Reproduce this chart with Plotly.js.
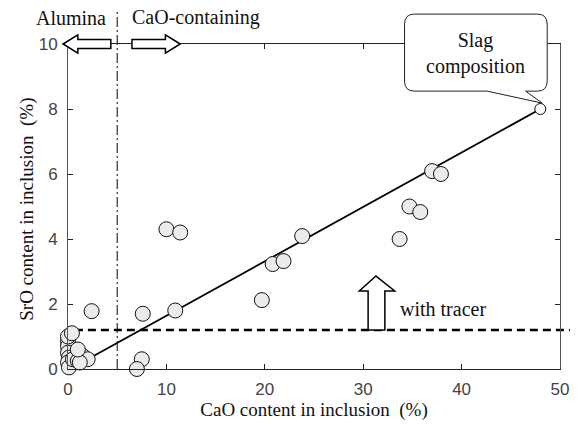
<!DOCTYPE html>
<html>
<head>
<meta charset="utf-8">
<script src="https://cdn.plot.ly/plotly-3.0.1.min.js"></script>
<style>html,body{margin:0;padding:0;background:#fff}#chart{width:583px;height:425px}</style>
</head>
<body>
<div id="chart"></div>
<script>
// ---- data ----
const caoInclusion = [37.0, 37.9, 34.7, 35.8, 33.7, 23.8, 20.8, 21.9, 19.7, 10.0, 11.4, 10.9, 7.6, 2.4, 7.5, 7.0,
  0.0, 0.0, 0.0, 0.1, 0.0, 0.1, 0.0, 0.5, 1.5, 2.0, 1.0, 1.2, 1.0, 0.4];
const sroInclusion = [6.09, 6.0, 5.0, 4.83, 4.0, 4.09, 3.23, 3.32, 2.12, 4.3, 4.2, 1.8, 1.7, 1.78, 0.3, 0.0,
  0.85, 0.7, 0.5, 0.35, 0.2, 0.05, 1.0, 0.3, 0.4, 0.3, 0.25, 0.2, 0.6, 1.1];
const slagCaO = [48];
const slagSrO = [8];
const fitCaO = [2, 48];
const fitSrO = [0.3, 8];
const tracerLevel = 1.2;
const boundaryCaO = 5;
const xTicks = [0, 10, 20, 30, 40, 50];
const yTicks = [0, 2, 4, 6, 8, 10];
const xRange = [0, 50];
const yRange = [0, 10];

const fx = v => (v - xRange[0]) / (xRange[1] - xRange[0]);
const fy = v => (v - yRange[0]) / (yRange[1] - yRange[0]);
const P = (x, y) => fx(x) + ',' + fy(y);

const serif = 'Liberation Serif, Times New Roman, serif';

// callout path
const cx0 = 34.2, cx1 = 48.7, cy0 = 8.55, cy1 = 10.92, rx = 1.0, ry = 0.31;
const calloutPath = 'M' + P(cx0 + rx, cy1) + ' L' + P(cx1 - rx, cy1) + ' Q' + P(cx1, cy1) + ' ' + P(cx1, cy1 - ry) +
  ' L' + P(cx1, cy0 + ry) + ' Q' + P(cx1, cy0) + ' ' + P(cx1 - rx, cy0) +
  ' L' + P(46.5, cy0) + ' L' + P(48.2, 8.18) + ' L' + P(42.6, cy0) +
  ' L' + P(cx0 + rx, cy0) + ' Q' + P(cx0, cy0) + ' ' + P(cx0, cy0 + ry) +
  ' L' + P(cx0, cy1 - ry) + ' Q' + P(cx0, cy1) + ' ' + P(cx0 + rx, cy1) + ' Z';

// block arrows
const hh = 0.28, bh = 0.14;
const leftArrow = 'M' + P(-0.5, 10) + ' L' + P(1.0, 10 + hh) + ' L' + P(1.0, 10 + bh) + ' L' + P(4.35, 10 + bh) +
  ' L' + P(4.35, 10 - bh) + ' L' + P(1.0, 10 - bh) + ' L' + P(1.0, 10 - hh) + ' Z';
const rightArrow = 'M' + P(11.4, 10) + ' L' + P(9.9, 10 + hh) + ' L' + P(9.9, 10 + bh) + ' L' + P(6.5, 10 + bh) +
  ' L' + P(6.5, 10 - bh) + ' L' + P(9.9, 10 - bh) + ' L' + P(9.9, 10 - hh) + ' Z';
const upArrow = 'M' + P(31.3, 2.86) + ' L' + P(33.2, 2.4) + ' L' + P(32.2, 2.4) + ' L' + P(32.2, tracerLevel) +
  ' L' + P(30.5, tracerLevel) + ' L' + P(30.5, 2.4) + ' L' + P(29.6, 2.4) + ' Z';

const traces = [
  {x: fitCaO, y: fitSrO, mode: 'lines', line: {color: '#000', width: 1.8}, hoverinfo: 'skip'},
  {x: caoInclusion, y: sroInclusion, mode: 'markers',
   marker: {size: 15, color: '#ebebeb', line: {color: '#111', width: 1}}, cliponaxis: false},
  {x: slagCaO, y: slagSrO, mode: 'markers',
   marker: {size: 11, color: '#fff', line: {color: '#111', width: 1}}, cliponaxis: false}
];

const layout = {
  width: 583, height: 425,
  margin: {l: 68, r: 23, t: 44, b: 56},
  paper_bgcolor: '#fff', plot_bgcolor: '#fff',
  showlegend: false,
  font: {family: 'Liberation Sans, Arial, sans-serif', color: '#333'},
  xaxis: {
    range: xRange, tickvals: xTicks, ticktext: xTicks.map(String),
    ticks: 'inside', ticklen: 5, tickcolor: '#222', showline: true, linecolor: '#222', linewidth: 1,
    mirror: 'ticks', showgrid: false, zeroline: false, ticklabelstandoff: 5,
    tickfont: {size: 17, color: '#444'},
    title: {text: 'CaO content in inclusion\u00a0\u00a0(%)', font: {family: serif, size: 19, color: '#111'}, standoff: 1}
  },
  yaxis: {
    range: yRange, tickvals: yTicks, ticktext: yTicks.map(String),
    ticks: 'inside', ticklen: 5, tickcolor: '#222', showline: true, linecolor: '#555', linewidth: 1,
    mirror: 'ticks', showgrid: false, zeroline: false, ticklabelstandoff: 6,
    tickfont: {size: 17, color: '#444'}
  },
  shapes: [
    {type: 'line', xref: 'paper', yref: 'paper', x0: fx(0.7), x1: 1.02, y0: fy(tracerLevel), y1: fy(tracerLevel),
     line: {color: '#000', width: 2.5, dash: '8px,5px'}, layer: 'below'},
    {type: 'line', xref: 'paper', yref: 'paper', x0: fx(boundaryCaO), x1: fx(boundaryCaO), y0: 0, y1: 1.105,
     line: {color: '#000', width: 1, dash: '10px,3px,2px,3px'}, layer: 'below'},
    {type: 'path', xref: 'paper', yref: 'paper', path: upArrow, fillcolor: '#fff', line: {color: '#000', width: 1.5}, layer: 'above'},
    {type: 'path', xref: 'paper', yref: 'paper', path: leftArrow, fillcolor: '#fff', line: {color: '#000', width: 1.5}, layer: 'above'},
    {type: 'path', xref: 'paper', yref: 'paper', path: rightArrow, fillcolor: '#fff', line: {color: '#000', width: 1.5}, layer: 'above'},
    {type: 'path', xref: 'paper', yref: 'paper', path: calloutPath, fillcolor: '#fff', line: {color: '#222', width: 1}, layer: 'above'}
  ],
  annotations: [
    {xref: 'paper', yref: 'paper', x: 0, xshift: -41, y: 0.49, textangle: -90,
     text: 'SrO content in inclusion\u00a0\u00a0(%)', showarrow: false,
     font: {family: serif, size: 19, color: '#111'}, xanchor: 'center', yanchor: 'middle'},
    {xref: 'paper', yref: 'paper', x: fx(0.3), y: fy(10.8), text: 'Alumina', showarrow: false,
     font: {family: serif, size: 20, color: '#111'}, xanchor: 'center', yanchor: 'middle'},
    {xref: 'paper', yref: 'paper', x: fx(13.0), y: fy(10.8), text: 'CaO-containing', showarrow: false,
     font: {family: serif, size: 20, color: '#111'}, xanchor: 'center', yanchor: 'middle'},
    {xref: 'paper', yref: 'paper', x: fx(41.4), y: fy(9.7), text: 'Slag<br>composition', showarrow: false,
     font: {family: serif, size: 20, color: '#111'}, xanchor: 'center', yanchor: 'middle'},
    {xref: 'paper', yref: 'paper', x: fx(33.5), y: fy(1.85), text: 'with tracer', showarrow: false,
     font: {family: serif, size: 20, color: '#111'}, xanchor: 'left', yanchor: 'middle'}
  ]
};

Plotly.newPlot('chart', traces, layout, {displayModeBar: false, staticPlot: true});
</script>
</body>
</html>
